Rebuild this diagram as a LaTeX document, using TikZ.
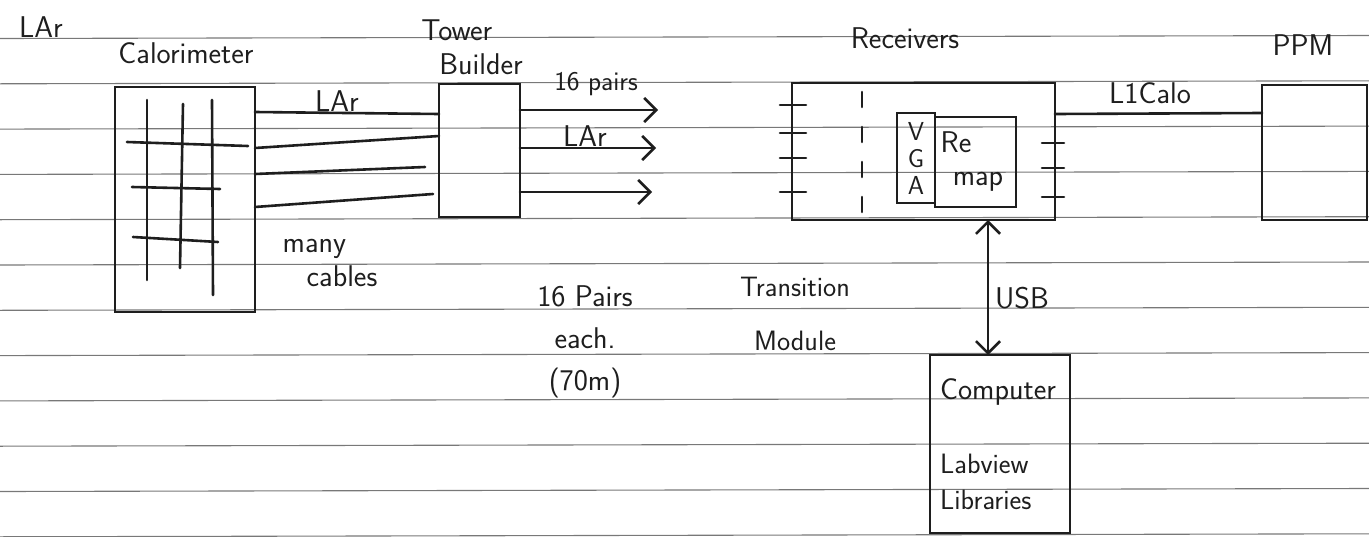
\documentclass[tikz,border=0pt]{standalone}
\usepackage{tikz}
\usetikzlibrary{
	arrows.meta,
	calc,
	positioning
}
\definecolor{Ink}{RGB}{30,30,30}
\definecolor{RuleGray}{RGB}{120,120,120}
\tikzset{
	box/.style={draw=Ink, line width=2.6pt, inner sep=0pt, outer sep=0pt, anchor=north west},
	wire/.style={draw=Ink, line width=2.6pt, line cap=round, line join=round},
	hand/.style={text=Ink, font=\sffamily\fontsize{30}{34}\selectfont, inner sep=0pt},
}

\begin{document}
\begin{tikzpicture}[x=1pt, y=-1pt, >={Straight Barb[length=12pt,width=24pt]}]
			\useasboundingbox (0,0) rectangle (1369,536);
			\fill[white] (0,0) rectangle (1369,536);
			% ruled paper
			\foreach \k in {0,...,11}
				\draw[RuleGray, line width=1.1pt] (0,{38.5+45.3*\k}) -- (1369,{35.5+45.3*\k});
			% boxes
			\node[box, minimum width=140pt, minimum height=225pt] (Cal) at (115,87) {};
			\node[box, minimum width=81pt, minimum height=133pt] (TB) at (439,84) {};
			\node[box, minimum width=263pt, minimum height=137pt] (Rx) at (792,83) {};
			\node[box, minimum width=38pt, minimum height=90pt] (VGA) at (897,113) {};
			\node[box, minimum width=81pt, minimum height=90pt] (Remap) at (935,117) {};
			\node[box, minimum width=105pt, minimum height=135pt] (PPM) at (1262,85) {};
			\node[box, minimum width=140pt, minimum height=178pt] (PC) at (930,355) {};
			% calorimeter cells
			\draw[wire] (147,100) -- (147,280);
			\draw[wire] (183,104) -- (180,268);
			\draw[wire] (212,100) -- (213,295);
			\draw[wire] (127,142) -- (248,146);
			\draw[wire] (132,187) -- (220,189);
			\draw[wire] (133,237) -- (218,242);
			% cables to tower builder
			\draw[wire] (Cal.east |- 0,112) -- (TB.west |- 0,114);
			\draw[wire] (Cal.east |- 0,148) -- (TB.west |- 0,136);
			\draw[wire] (Cal.east |- 0,174) -- ([xshift=-14pt]TB.west |- 0,167);
			\draw[wire] (Cal.east |- 0,207) -- ([xshift=-6pt]TB.west |- 0,194);
			% pairs out of tower builder
			\coordinate (A1) at (658,110);
			\coordinate (A2) at (656,148);
			\coordinate (A3) at (652,192);
			\draw[wire, ->] (TB.east |- A1) -- (A1);
			\draw[wire, ->] (TB.east |- A2) -- (A2);
			\draw[wire, ->] (TB.east |- A3) -- (A3);
			% receiver details
			\foreach \t in {105,133,158,192}
				\draw[wire] (Rx.west |- 0,\t) ++(-12,0) -- ++(26,0);
			\foreach \t in {143,168,197}
				\draw[wire] (Rx.east |- 0,\t) ++(-13,0) -- ++(22,0);
			\draw[wire, dash pattern=on 15pt off 20pt] (862,92) -- (862,214);
			% links
			\draw[wire] (Rx.east |- 0,114) -- (PPM.west |- 0,113);
			\coordinate (U) at (988,0);
			\draw[wire, <->] (Rx.south -| U) -- (PC.north -| U);
			% labels
			\node[hand] (tLArTop) at (41,27) {LAr};
			\node[hand] (tCal) at (186,53) {Calorimeter};
			\node[hand, align=left] (tTB) at (472,47) {Tower\\\hspace*{0.6em}Builder};
			\node[hand] (tRx) at (905,38) {Receivers};
			\node[hand] (tPPM) at (1303,45) {PPM};
			\node[hand] (tLAr) at (337,101) {LAr};
			\node[hand, align=left] (tMany) at (330,263) {many\\\hspace*{0.8em}cables};
			\node[hand, font=\sffamily\fontsize{27}{30}\selectfont] (tPairs) at (596,84) {16 pairs};
			\node[hand] (tLAr2) at (585,136) {LAr};
			\node[hand] (tL1) at (1150,93) {L1Calo};
			\node[hand, align=center, font=\sffamily\fontsize{30}{42}\selectfont] (tEach) at (585,342) {16 Pairs\\each.\\(70m)};
			\node[hand, align=center, font=\sffamily\fontsize{28}{54}\selectfont] (tTM) at (795,314) {Transition\\Module};
			\node[hand] (tUSB) at (1022,298) {USB};
			\node[hand, align=center, font=\sffamily\fontsize{26}{27}\selectfont] (tVGA) at (VGA) {V\\G\\A};
			\node[hand] (tRe) at (956,142) {Re};
			\node[hand] (tMap) at (978,182) {map};
			\node[hand] (tPC) at (998,392) {Computer};
			\node[hand, align=left, anchor=west, font=\sffamily\fontsize{28}{36}\selectfont] (tLab) at (940,482) {Labview\\Libraries};
		\end{tikzpicture}
\end{document}
